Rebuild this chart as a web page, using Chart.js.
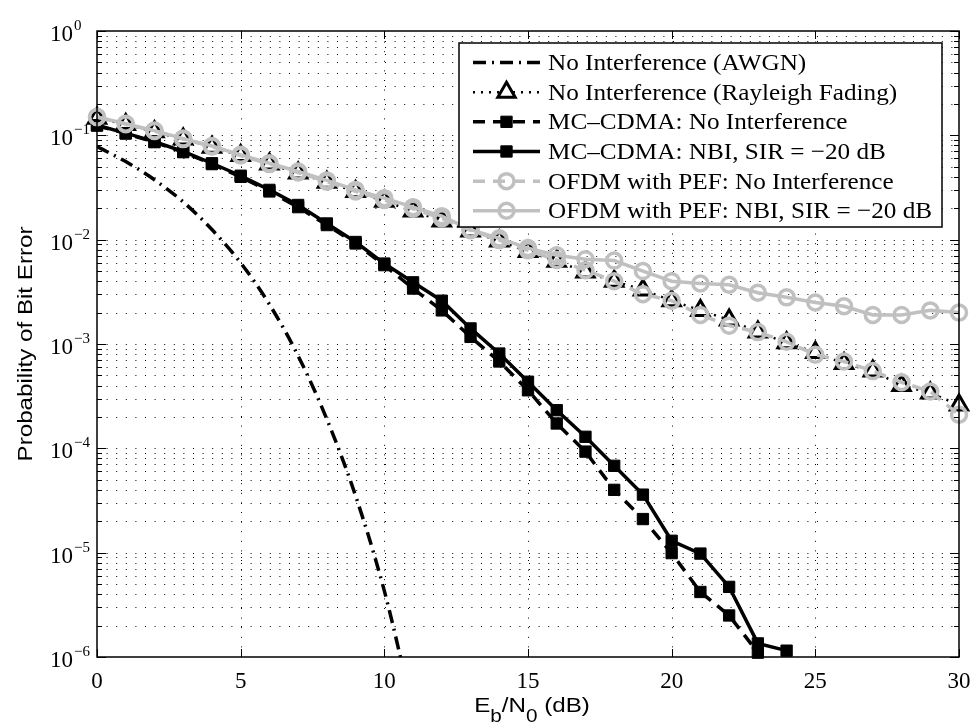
<!DOCTYPE html>
<html>
<head>
<meta charset="utf-8">
<script src="https://cdn.jsdelivr.net/npm/chart.js@4.4.0/dist/chart.umd.min.js"></script>
<style>
  body { margin: 0; background: #fff; }
  canvas { display: block; }
</style>
</head>
<body>
<canvas id="berChart" width="972" height="727"></canvas>
<script>
// Eb/N0 in dB for the simulated curves
var snrDb = [0, 1, 2, 3, 4, 5, 6, 7, 8, 9, 10, 11, 12, 13, 14, 15,
             16, 17, 18, 19, 20, 21, 22, 23, 24, 25, 26, 27, 28, 29, 30];

// BER values, one entry per snrDb point
var awgnBer = [0.078, 0.056, 0.0375, 0.023, 0.0125, 0.006, 0.0024, 7.7e-4,
               1.9e-4, 3.5e-5, 4.3e-6, 3.0e-7];
var rayleighBer = [0.146, 0.127, 0.108, 0.092, 0.077, 0.064, 0.053, 0.0435,
                   0.0355, 0.029, 0.0233, 0.0188, 0.0151, 0.0121, 0.0097, 0.0077,
                   0.0062, 0.0049, 0.0040, 0.0033, 0.0026, 0.0021, 0.0017, 0.0013,
                   0.00103, 0.00083, 0.00065, 0.00055, 0.00040, 0.00034, 0.00026];
var mcCleanBer = [0.124, 0.104, 0.086, 0.069, 0.053, 0.040, 0.029, 0.0205,
                  0.0138, 0.0092, 0.0057, 0.0034, 0.0021, 0.00117, 0.00068, 0.00036,
                  1.73e-4, 9.3e-5, 4.0e-5, 2.1e-5, 9.9e-6, 4.2e-6, 2.5e-6, 1.1e-6];
var mcNbiBer = [0.125, 0.105, 0.087, 0.070, 0.054, 0.041, 0.030, 0.0215,
                0.0143, 0.0095, 0.0059, 0.0039, 0.0026, 0.00141, 0.00081, 4.35e-4,
                2.32e-4, 1.29e-4, 6.8e-5, 3.6e-5, 1.3e-5, 9.8e-6, 4.7e-6, 1.35e-6,
                1.15e-6];
var ofdmCleanBer = [0.150, 0.128, 0.110, 0.092, 0.078, 0.064, 0.053, 0.044,
                    0.036, 0.029, 0.024, 0.0198, 0.0160, 0.0123, 0.0099, 0.0079,
                    0.0064, 0.0051, 0.0040, 0.0030, 0.0026, 0.0019, 0.0015, 0.0013,
                    0.00105, 0.00079, 0.00068, 0.00055, 0.00043, 0.00035, 0.00021];
var ofdmNbiBer = [0.150, 0.129, 0.111, 0.093, 0.079, 0.065, 0.054, 0.045,
                  0.037, 0.030, 0.025, 0.0205, 0.0168, 0.0125, 0.0103, 0.0083,
                  0.0071, 0.0065, 0.0063, 0.0050, 0.0040, 0.0038, 0.0037, 0.0031,
                  0.0028, 0.0025, 0.0023, 0.0019, 0.0019, 0.0021, 0.0020];

var xTicks = [0, 5, 10, 15, 20, 25, 30];
var yDecades = [0, -1, -2, -3, -4, -5, -6];

var seriesNames = [
  'No Interference (AWGN)',
  'No Interference (Rayleigh Fading)',
  'MC\u2013CDMA: No Interference',
  'MC\u2013CDMA: NBI, SIR = \u221220 dB',
  'OFDM with PEF: No Interference',
  'OFDM with PEF: NBI, SIR = \u221220 dB'
];

var GRAY = '#c0c0c0';
var SERIF = '"Liberation Serif", "Times New Roman", serif';
var SANS = '"Liberation Sans", Arial, sans-serif';

function pairs(ys) {
  var out = [];
  for (var i = 0; i < ys.length; i++) out.push({ x: snrDb[i], y: ys[i] });
  return out;
}

var datasets = [
  {
    label: seriesNames[0], data: pairs(awgnBer),
    borderColor: '#000', borderWidth: 3.5, borderDash: [13, 6, 2, 6],
    pointRadius: 0, cubicInterpolationMode: 'monotone', order: 6
  },
  {
    label: seriesNames[1], data: pairs(rayleighBer),
    borderColor: '#000', borderWidth: 2.5, borderDash: [2, 6],
    pointStyle: 'triangle', pointRadius: 10, pointBorderWidth: 3,
    pointBorderColor: '#000', pointBackgroundColor: '#fff', order: 5, clip: 14
  },
  {
    label: seriesNames[2], data: pairs(mcCleanBer),
    borderColor: '#000', borderWidth: 3.5, borderDash: [12, 8],
    pointStyle: 'rect', pointRadius: 8, pointBorderWidth: 1,
    pointBorderColor: '#000', pointBackgroundColor: '#000', order: 4, clip: 14
  },
  {
    label: seriesNames[3], data: pairs(mcNbiBer),
    borderColor: '#000', borderWidth: 3.5, borderDash: [],
    pointStyle: 'rect', pointRadius: 8, pointBorderWidth: 1,
    pointBorderColor: '#000', pointBackgroundColor: '#000', order: 3, clip: 14
  },
  {
    label: seriesNames[4], data: pairs(ofdmCleanBer),
    borderColor: GRAY, borderWidth: 3.5, borderDash: [12, 8],
    pointStyle: 'circle', pointRadius: 7.5, pointBorderWidth: 3.5,
    pointBorderColor: GRAY, pointBackgroundColor: 'rgba(0,0,0,0)', order: 2, clip: 14
  },
  {
    label: seriesNames[5], data: pairs(ofdmNbiBer),
    borderColor: GRAY, borderWidth: 3.5, borderDash: [],
    pointStyle: 'circle', pointRadius: 7.5, pointBorderWidth: 3.5,
    pointBorderColor: GRAY, pointBackgroundColor: 'rgba(0,0,0,0)', order: 1, clip: 14
  }
];

function line(ctx, x1, y1, x2, y2) {
  ctx.beginPath();
  ctx.moveTo(x1, y1);
  ctx.lineTo(x2, y2);
  ctx.stroke();
}

// draws text stretched sideways by sx, starting at x (left aligned)
function wideText(ctx, text, x, y, sx) {
  ctx.save();
  ctx.translate(x, y);
  ctx.scale(sx, 1);
  ctx.fillText(text, 0, 0);
  ctx.restore();
}

// dotted grid, box, inward ticks, labels and the legend, MATLAB style
var berAxes = {
  id: 'berAxes',
  beforeDatasetsDraw: function (chart) {
    var ctx = chart.ctx, a = chart.chartArea;
    var xs = chart.scales.x, ys = chart.scales.y;
    ctx.save();
    ctx.strokeStyle = '#000';
    ctx.lineWidth = 1;
    ctx.setLineDash([1, 8.6]);
    xTicks.forEach(function (v) {
      var px = Math.round(xs.getPixelForValue(v)) + 0.5;
      if (px > a.left + 1 && px < a.right - 1) line(ctx, px, a.bottom, px, a.top);
    });
    yDecades.forEach(function (e) {
      for (var m = 1; m <= 9; m++) {
        var py = Math.round(ys.getPixelForValue(m * Math.pow(10, e))) + 0.5;
        if (py > a.top + 1 && py < a.bottom - 1) line(ctx, a.left, py, a.right, py);
      }
    });
    ctx.restore();
  },
  afterDatasetsDraw: function (chart) {
    var ctx = chart.ctx, a = chart.chartArea;
    var xs = chart.scales.x, ys = chart.scales.y;
    ctx.save();
    ctx.setLineDash([]);
    ctx.strokeStyle = '#000';
    ctx.lineWidth = 1.5;
    ctx.strokeRect(a.left, a.top, a.right - a.left, a.bottom - a.top);

    // ticks
    ctx.lineWidth = 1;
    xTicks.forEach(function (v) {
      var px = Math.round(xs.getPixelForValue(v)) + 0.5;
      line(ctx, px, a.bottom, px, a.bottom - 8);
      line(ctx, px, a.top, px, a.top + 8);
    });
    yDecades.forEach(function (e) {
      for (var m = 1; m <= 9; m++) {
        var py = Math.round(ys.getPixelForValue(m * Math.pow(10, e))) + 0.5;
        if (py < a.top - 1) continue;
        var len = m === 1 ? 9 : 5;
        line(ctx, a.left, py, a.left + len, py);
        line(ctx, a.right, py, a.right - len, py);
      }
    });

    // x tick labels
    ctx.fillStyle = '#000';
    ctx.font = '23px ' + SERIF;
    ctx.textAlign = 'center';
    ctx.textBaseline = 'alphabetic';
    xTicks.forEach(function (v) {
      ctx.fillText(String(v), xs.getPixelForValue(v), a.bottom + 31);
    });

    // y tick labels: 10 with a raised exponent
    yDecades.forEach(function (e) {
      var py = ys.getPixelForValue(Math.pow(10, e));
      ctx.font = '23px ' + SERIF;
      ctx.textAlign = 'right';
      ctx.fillText('10', 73, py + 10);
      ctx.font = '15px ' + SERIF;
      ctx.textAlign = 'left';
      ctx.fillText(e === 0 ? '0' : '\u2212' + (-e), 74, py - 1);
    });

    // x axis title with subscripts
    var sx = 1.15;
    var parts = [
      { t: 'E', f: '21px ' + SANS, dy: 0 },
      { t: 'b', f: '18px ' + SANS, dy: 10 },
      { t: '/N', f: '21px ' + SANS, dy: 0 },
      { t: '0', f: '18px ' + SANS, dy: 10 },
      { t: ' (dB)', f: '21px ' + SANS, dy: 0 }
    ];
    var total = 0;
    parts.forEach(function (p) { ctx.font = p.f; p.w = ctx.measureText(p.t).width * sx; total += p.w; });
    var cx = 532 - total / 2;
    ctx.textAlign = 'left';
    parts.forEach(function (p) {
      ctx.font = p.f;
      wideText(ctx, p.t, cx, 712 + p.dy, sx);
      cx += p.w;
    });

    // y axis title
    ctx.save();
    ctx.translate(32, (a.top + a.bottom) / 2);
    ctx.rotate(-Math.PI / 2);
    ctx.scale(1.15, 1);
    ctx.font = '21px ' + SANS;
    ctx.textAlign = 'center';
    ctx.fillText('Probability of Bit Error', 0, 0);
    ctx.restore();

    // legend
    var bx = 459, by = 43, bw = 483, bh = 184;
    ctx.fillStyle = '#fff';
    ctx.fillRect(bx, by, bw, bh);
    ctx.strokeStyle = '#000';
    ctx.lineWidth = 1.5;
    ctx.strokeRect(bx, by, bw, bh);
    chart.data.datasets.forEach(function (ds, i) {
      var ry = 62.5 + i * 29.66;
      ctx.save();
      ctx.strokeStyle = ds.borderColor;
      ctx.lineWidth = ds.borderWidth;
      ctx.setLineDash(ds.borderDash || []);
      line(ctx, 473, ry, 540, ry);
      ctx.restore();
      if (ds.pointRadius > 0) {
        ctx.save();
        ctx.setLineDash([]);
        ctx.fillStyle = ds.pointBackgroundColor;
        ctx.strokeStyle = ds.pointBorderColor;
        ctx.lineWidth = ds.pointBorderWidth;
        Chart.helpers.drawPoint(ctx, {
          pointStyle: ds.pointStyle, radius: ds.pointRadius,
          rotation: 0, borderWidth: ds.pointBorderWidth
        }, 506.5, ry);
        ctx.restore();
      }
      ctx.fillStyle = '#000';
      ctx.font = '24px ' + SERIF;
      ctx.textAlign = 'left';
      wideText(ctx, ds.label, 548, ry + 7.5, 1.05);
    });
    ctx.restore();
  }
};

new Chart(document.getElementById('berChart').getContext('2d'), {
  type: 'line',
  data: { datasets: datasets },
  options: {
    responsive: false,
    animation: false,
    devicePixelRatio: 1,
    layout: { padding: { left: 97, right: 12, top: 31, bottom: 70 } },
    plugins: { legend: { display: false }, tooltip: { enabled: false } },
    scales: {
      x: { type: 'linear', min: 0, max: 30, display: false },
      y: { type: 'logarithmic', min: 1e-6, max: 1, display: false }
    }
  },
  plugins: [berAxes]
});
</script>
</body>
</html>
